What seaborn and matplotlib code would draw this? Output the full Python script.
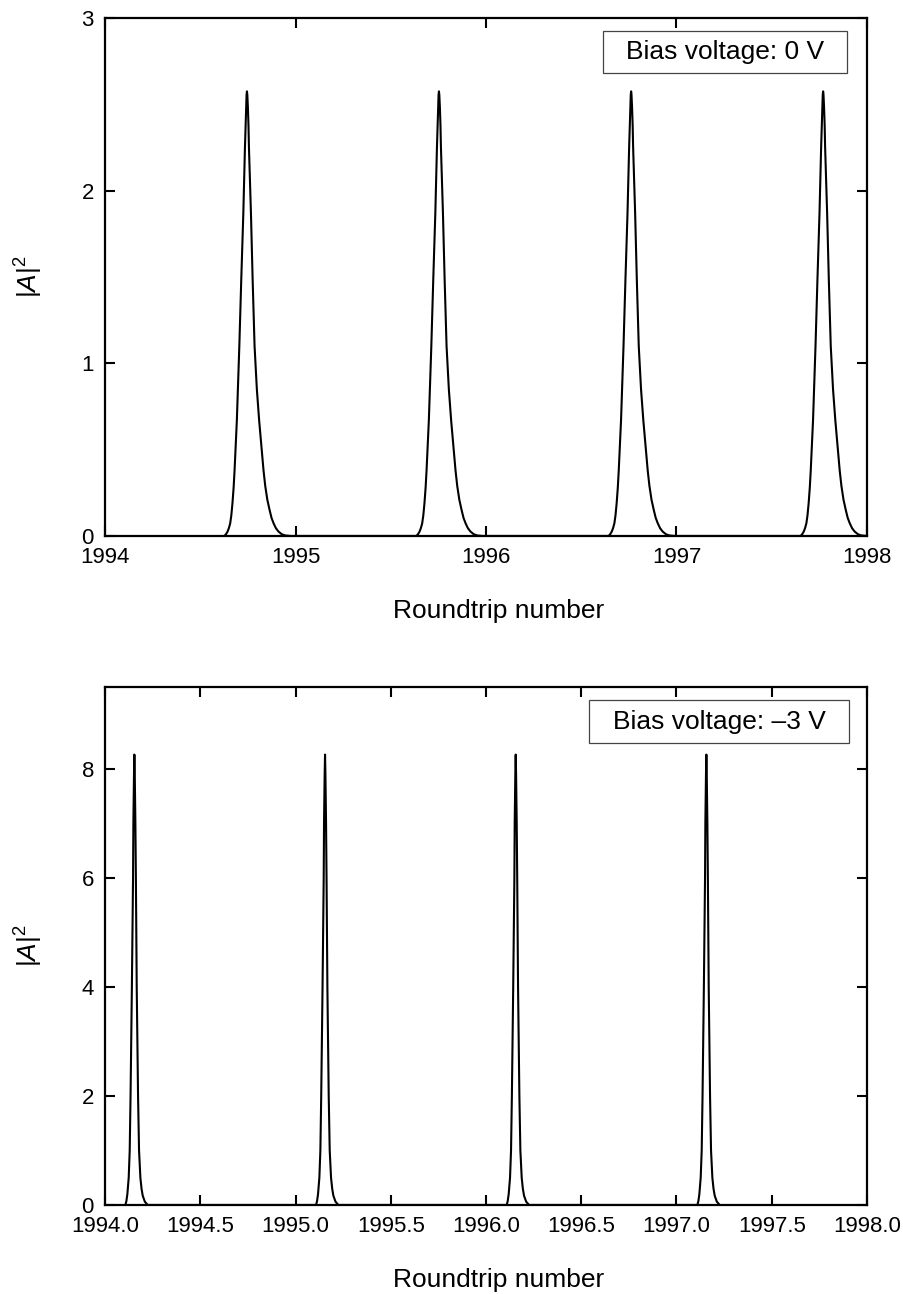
"""Two-panel pulse train plot: |A|^2 vs roundtrip number at 0 V and -3 V bias."""

import matplotlib

matplotlib.use("Agg")
import matplotlib.pyplot as plt
import numpy as np
import pandas as pd
import seaborn as sns

# ---------------------------------------------------------------------------
# Data
# ---------------------------------------------------------------------------
# Bias 0 V: pulse centres (roundtrip number) and one pulse profile
TOP_CENTERS = [1994.745, 1995.753, 1996.762, 1997.770]
TOP_OFFSETS = [-0.119, -0.110, -0.102, -0.095, -0.088, -0.082, -0.076, -0.070,
               -0.065, -0.053, -0.040, -0.030, -0.019, -0.0105, -0.007, -0.004,
               -0.002, 0.0, 0.002, 0.005, 0.008, 0.0105, 0.021, 0.030,
               0.040, 0.052, 0.064, 0.079, 0.087, 0.096, 0.107, 0.119,
               0.129, 0.140, 0.152, 0.166, 0.183, 0.201, 0.230]
TOP_VALUES = [0.0, 0.010, 0.025, 0.045, 0.073, 0.12, 0.19, 0.28,
              0.38, 0.67, 1.10, 1.48, 1.87, 2.25, 2.38, 2.50,
              2.555, 2.575, 2.555, 2.48, 2.38, 2.25, 1.87, 1.48,
              1.10, 0.85, 0.67, 0.48, 0.38, 0.29, 0.21, 0.15,
              0.105, 0.073, 0.045, 0.025, 0.010, 0.003, 0.0]

# Bias -3 V
BOT_CENTERS = [1994.154, 1995.155, 1996.156, 1997.157]
BOT_OFFSETS = [-0.0473, -0.042, -0.0368, -0.0298, -0.0245, -0.0201, -0.0131,
               -0.0070, -0.0053, -0.002, 0.0, 0.002, 0.0053, 0.0079, 0.0123,
               0.0193, 0.0245, 0.0315, 0.0375, 0.0438, 0.055, 0.0701]
BOT_VALUES = [0.0, 0.07, 0.2, 0.5, 1.0, 2.0, 4.0,
              6.0, 7.0, 7.9, 8.26, 7.9, 7.0, 6.0, 4.0,
              2.0, 1.0, 0.5, 0.3, 0.17, 0.06, 0.0]

TOP_XTICKS = [1994, 1995, 1996, 1997, 1998]
TOP_YTICKS = [0, 1, 2, 3]
BOT_XTICKS = [1994.0, 1994.5, 1995.0, 1995.5, 1996.0, 1996.5, 1997.0, 1997.5, 1998.0]
BOT_YTICKS = [0, 2, 4, 6, 8]

TOP_LABEL = "Bias voltage: 0 V"
BOT_LABEL = "Bias voltage: \u20133 V"


def pulse_frame(centers, offsets, values) -> pd.DataFrame:
    x = np.concatenate([c + np.asarray(offsets) for c in centers])
    y = np.tile(values, len(centers))
    return pd.DataFrame({"roundtrip": x, "intensity": y})


def style_axes(ax, xticks, yticks, ylim, xfmt):
    ax.set_xlim(1994, 1998)
    ax.set_ylim(*ylim)
    ax.set_xticks(xticks)
    ax.set_xticklabels([xfmt.format(t) for t in xticks])
    ax.set_yticks(yticks)
    ax.tick_params(direction="in", top=True, right=True, length=7, width=1.5,
                   labelsize=16, pad=8, colors="black")
    for sp in ax.spines.values():
        sp.set_visible(True)
        sp.set_linewidth(1.6)
        sp.set_color("black")
    ax.set_xlabel("Roundtrip number", fontsize=19, labelpad=22, color="black")
    ax.xaxis.label.set_x(0.517)  # label sits slightly right of centre in the original
    ax.set_ylabel(r"$|A|^2$", fontsize=19, labelpad=26, color="black")


def add_box(ax, text, x0, y0, x1, y1):
    ax.add_patch(plt.Rectangle((x0, y0), x1 - x0, y1 - y0, transform=ax.transAxes,
                               fill=False, lw=0.9, ec="#444444", zorder=5))
    ax.text((x0 + x1) / 2, (y0 + y1) / 2, text, transform=ax.transAxes,
            ha="center", va="center", fontsize=19, color="black", zorder=6)


def main() -> int:
    sns.set_style("ticks")
    plt.rcParams["font.family"] = ["Liberation Sans", "DejaVu Sans"]
    plt.rcParams["mathtext.fontset"] = "custom"
    plt.rcParams["mathtext.rm"] = "Liberation Sans"
    plt.rcParams["mathtext.it"] = "Liberation Sans:italic"
    plt.rcParams["text.color"] = "black"

    fig = plt.figure(figsize=(9.04, 12.94), dpi=100)
    ax_top = fig.add_axes([0.1162, 0.5858, 0.8428, 0.4003])
    ax_bot = fig.add_axes([0.1162, 0.0688, 0.8428, 0.4003])

    top_df = pulse_frame(TOP_CENTERS, TOP_OFFSETS, TOP_VALUES)
    bot_df = pulse_frame(BOT_CENTERS, BOT_OFFSETS, BOT_VALUES)

    sns.lineplot(data=top_df, x="roundtrip", y="intensity", color="black",
                 linewidth=1.5, estimator=None, ax=ax_top)
    sns.lineplot(data=bot_df, x="roundtrip", y="intensity", color="black",
                 linewidth=1.5, estimator=None, ax=ax_bot)

    style_axes(ax_top, TOP_XTICKS, TOP_YTICKS, (0, 3), "{:d}")
    style_axes(ax_bot, BOT_XTICKS, BOT_YTICKS, (0, 9.5), "{:.1f}")

    add_box(ax_top, TOP_LABEL, 0.6535, 0.8938, 0.9738, 0.975)
    add_box(ax_bot, BOT_LABEL, 0.6356, 0.8913, 0.9760, 0.9749)

    fig.savefig("out.png", dpi=100)
    plt.close(fig)
    return 0


if __name__ == "__main__":
    raise SystemExit(main())
